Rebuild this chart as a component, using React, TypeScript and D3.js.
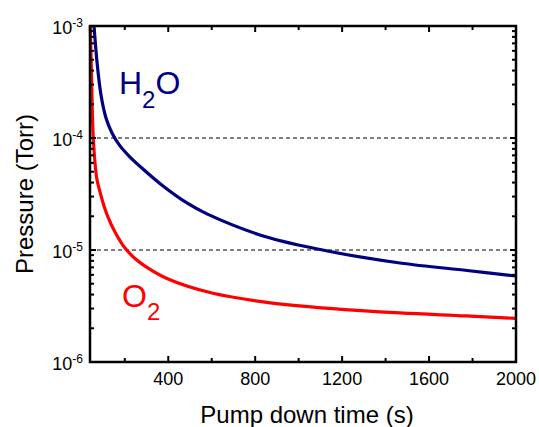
import React from 'react'
import * as d3 from 'd3'

const WIDTH = 539
const HEIGHT = 427
const MARGIN = { top: 26, right: 23, bottom: 65, left: 90 }

// pump down time (s) and pressure (Torr)
const h2oTime = [51.5, 58.4, 72.2, 90.6, 113.6, 141.2, 178, 224, 284, 376, 486, 578, 845, 1144, 1466, 1775, 2000]
const h2oPressure = [1.45e-3, 1.0e-3, 4.77e-4, 2.42e-4, 1.51e-4, 1.11e-4, 8.5e-5, 6.76e-5, 5.28e-5, 3.73e-5, 2.63e-5, 2.1e-5, 1.32e-5, 9.7e-6, 7.66e-6, 6.56e-6, 5.86e-6]

const o2Time = [40, 46.9, 55.2, 70.8, 86, 104.4, 122.8, 155, 201, 247, 293, 399, 601, 845, 1144, 1466, 1770, 2000]
const o2Pressure = [1.3e-3, 3.65e-4, 1.0e-4, 4.4e-5, 3.3e-5, 2.47e-5, 1.97e-5, 1.45e-5, 1.04e-5, 8.39e-6, 7.19e-6, 5.51e-6, 4.13e-6, 3.43e-6, 3.01e-6, 2.74e-6, 2.58e-6, 2.45e-6]

const xMajorTicks = [400, 800, 1200, 1600, 2000]
const xMinorTicks = [200, 600, 1000, 1400, 1800]
const yDecades = [-6, -5, -4, -3]
const dashedLevels = [1e-4, 1e-5]

const FONT = "'Liberation Sans', Arial, sans-serif"
const NAVY = '#000080'
const RED = '#ff0000'

export default function App() {
  const boundsWidth = WIDTH - MARGIN.left - MARGIN.right
  const boundsHeight = HEIGHT - MARGIN.top - MARGIN.bottom
  const x0 = MARGIN.left
  const x1 = MARGIN.left + boundsWidth
  const y0 = MARGIN.top + boundsHeight
  const y1 = MARGIN.top

  const xScale = d3.scaleLinear().domain([40, 2000]).range([x0, x1])
  const yScale = d3.scaleLog().domain([1e-6, 1e-3]).range([y0, y1])

  const line = d3
    .line<[number, number]>()
    .x((d) => xScale(d[0]))
    .y((d) => yScale(d[1]))
    .curve(d3.curveCatmullRom.alpha(0.5))

  const h2oPath = line(h2oTime.map((t, i) => [t, h2oPressure[i]]))
  const o2Path = line(o2Time.map((t, i) => [t, o2Pressure[i]]))

  // minor ticks 2..9 in each decade
  const yMinor: number[] = []
  yDecades.slice(0, 3).forEach((e) => {
    for (let k = 2; k <= 9; k++) yMinor.push(k * Math.pow(10, e))
  })

  const MAJ = 6
  const MIN = 4

  return (
    <svg width={WIDTH} height={HEIGHT} style={{ position: 'absolute', left: 0, top: 0, background: 'white' }}>
      <defs>
        <clipPath id="plot-clip">
          <rect x={x0 - 2} y={y1} width={boundsWidth + 2} height={boundsHeight} />
        </clipPath>
      </defs>

      {dashedLevels.map((v) => (
        <line key={v} x1={x0} x2={x1} y1={yScale(v)} y2={yScale(v)} stroke="#000" strokeWidth={1} strokeDasharray="4,3" />
      ))}

      <g clipPath="url(#plot-clip)" fill="none" strokeWidth={3.2} strokeLinejoin="round">
        <path d={h2oPath ?? ''} stroke={NAVY} />
        <path d={o2Path ?? ''} stroke={RED} />
      </g>

      {/* ticks, pointing inward on all four sides */}
      <g stroke="#000" strokeWidth={2}>
        {xMajorTicks.map((t) => (
          <g key={'xM' + t}>
            <line x1={xScale(t)} x2={xScale(t)} y1={y0} y2={y0 - MAJ} />
            <line x1={xScale(t)} x2={xScale(t)} y1={y1} y2={y1 + MAJ} />
          </g>
        ))}
        {xMinorTicks.map((t) => (
          <g key={'xm' + t}>
            <line x1={xScale(t)} x2={xScale(t)} y1={y0} y2={y0 - MIN} />
            <line x1={xScale(t)} x2={xScale(t)} y1={y1} y2={y1 + MIN} />
          </g>
        ))}
        {yDecades.map((e) => {
          const y = yScale(Math.pow(10, e))
          return (
            <g key={'yM' + e}>
              <line x1={x0} x2={x0 + MAJ} y1={y} y2={y} />
              <line x1={x1} x2={x1 - MAJ} y1={y} y2={y} />
            </g>
          )
        })}
        {yMinor.map((v) => (
          <g key={'ym' + v}>
            <line x1={x0} x2={x0 + MIN} y1={yScale(v)} y2={yScale(v)} />
            <line x1={x1} x2={x1 - MIN} y1={yScale(v)} y2={yScale(v)} />
          </g>
        ))}
      </g>

      <rect x={x0} y={y1} width={boundsWidth} height={boundsHeight} fill="none" stroke="#000" strokeWidth={2.5} />

      {/* tick labels */}
      <g fontFamily={FONT} fill="#000">
        {xMajorTicks.map((t) => (
          <text key={'xl' + t} x={xScale(t)} y={y0 + 23} fontSize={18} textAnchor="middle">
            {t}
          </text>
        ))}
        {yDecades.map((e) => (
          <text key={'yl' + e} x={x0 - 7} y={yScale(Math.pow(10, e)) + 8} fontSize={18} textAnchor="end">
            10
            <tspan fontSize={12} dy={-7}>
              {e}
            </tspan>
          </text>
        ))}
      </g>

      {/* axis titles */}
      <text x={307} y={423} fontFamily={FONT} fontSize={24} textAnchor="middle">
        Pump down time (s)
      </text>
      <text
        transform={`translate(33,${(y0 + y1) / 2}) rotate(-90)`}
        fontFamily={FONT}
        fontSize={24}
        textAnchor="middle"
      >
        Pressure (Torr)
      </text>

      {/* series labels */}
      <text x={119} y={94} fontFamily={FONT} fontSize={32} fill={NAVY}>
        H
        <tspan fontSize={24} dy={14}>2</tspan>
        <tspan dy={-14}>O</tspan>
      </text>
      <text x={122} y={307} fontFamily={FONT} fontSize={32} fill={RED}>
        O
        <tspan fontSize={24} dy={13}>2</tspan>
      </text>
    </svg>
  )
}
